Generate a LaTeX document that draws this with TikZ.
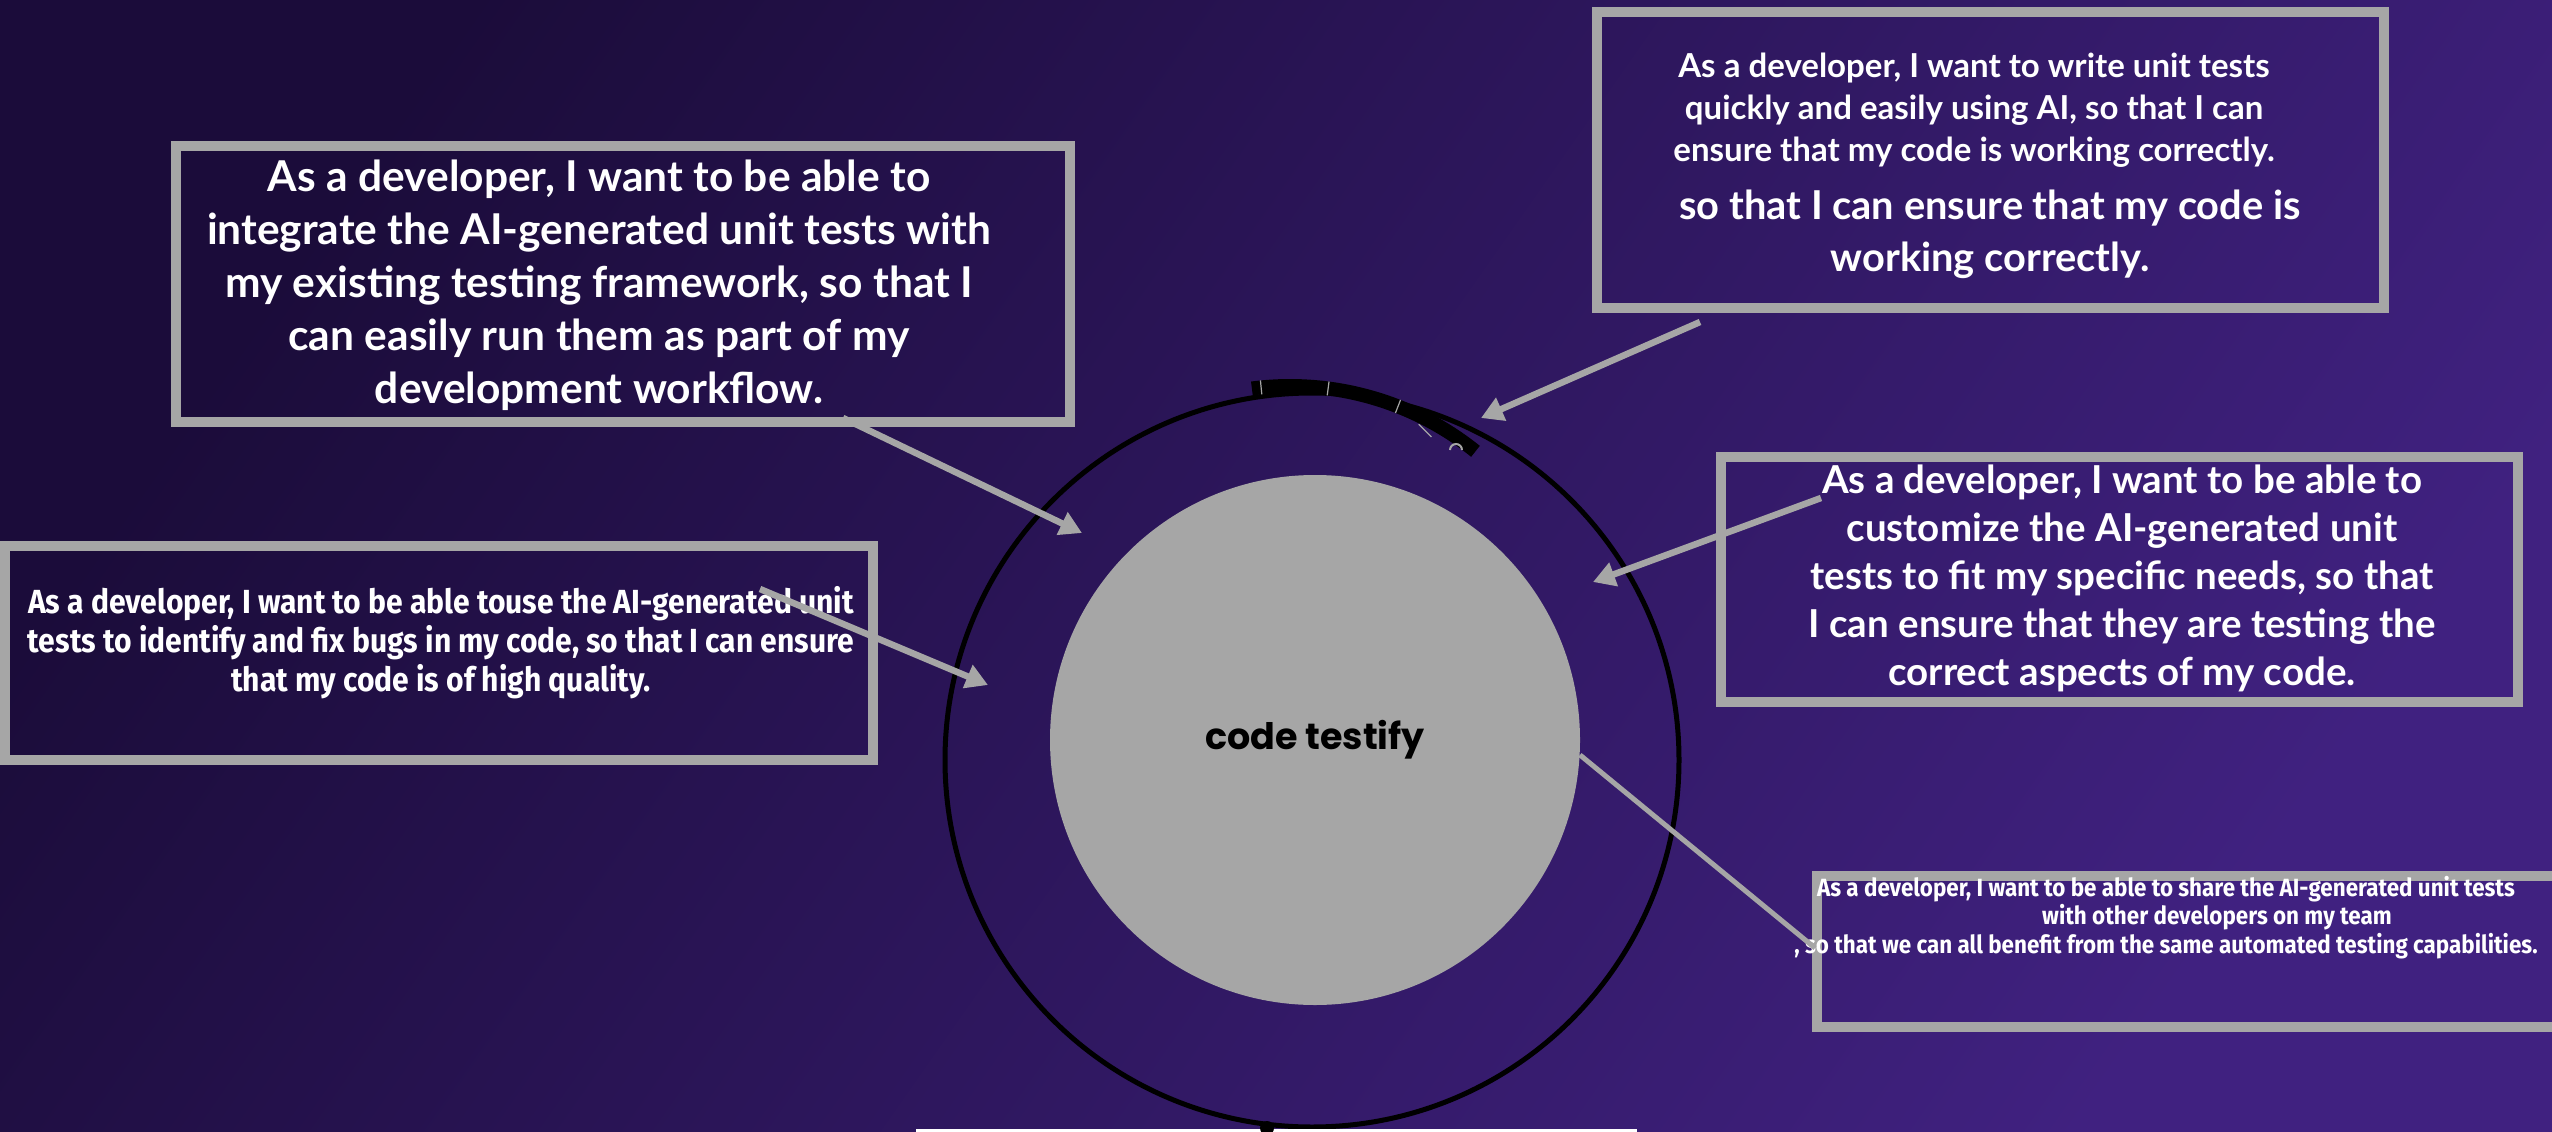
\documentclass[tikz,border=0pt]{standalone}
\usepackage{fontspec}
\usetikzlibrary{arrows.meta}
\newfontfamily\rfont{Lato}
\newfontfamily\cfont[FakeStretch=0.9]{Fira Sans}
\newfontfamily\pfont{Poppins}
\definecolor{bgA}{RGB}{27,12,58}
\definecolor{bgB}{RGB}{64,33,128}
\definecolor{gry}{RGB}{166,166,166}
\begin{document}
\begin{tikzpicture}[x=1pt,y=-1pt,
  box/.style={draw=gry, line width=10pt, rectangle, inner sep=0pt, outer sep=0pt},
  txt/.style={text=white, align=center, inner sep=0pt},
  arr/.style={draw=gry, line width=6.5pt, -{Triangle[length=22pt,width=24pt]}},
  seg/.style={draw=gry, line width=1.2pt},
]
% background
\useasboundingbox (0,0) rectangle (2552,1132);
\shade[top color=bgA, bottom color=bgB, shading angle=55] (0,0) rectangle (2552,1132);

% outer ring
\node[circle, draw=black, line width=5pt, minimum size=734pt, inner sep=0pt] (ring) at (1312,760) {};
% black arc band at top
\draw[black, line width=14pt] (1290,682) ++(-97.4:296) arc[start angle=-97.4, end angle=-51.2, radius=296];
\foreach \a in {-95.6,-82.6,-68.6} \draw[seg] (1290,682) ++(\a:289) -- ++(\a:14);
\draw[seg] (1290,682) ++(-60:283) -- ++(-135:18);
\draw[gry, line width=2pt] (1450,450) arc[start angle=180, end angle=360, radius=6];

% core
\node[circle, fill=gry, minimum size=530pt, inner sep=0pt, text=black,
      font={\pfont\bfseries\fontsize{36.5pt}{44pt}\selectfont}] (core) at (1315,740) {code testify};

% boxes
\node[box, minimum width=894pt, minimum height=276pt] (b1) at (623,284) {};
\node[box, minimum width=787pt, minimum height=296pt] (b2) at (1990.5,160) {};
\node[box, minimum width=868pt, minimum height=214pt] (b3) at (439,653) {};
\node[box, minimum width=797pt, minimum height=245pt] (b4) at (2119.5,579.5) {};
\node[box, minimum width=758pt, minimum height=151pt] (b5) at (2196,951.5) {};

% texts
\node[txt, font={\rfont\bfseries\fontsize{42.5pt}{53pt}\selectfont}] (t1) at (599,285)
  {As a developer, I want to be able to\\ integrate the AI-generated unit tests with\\ my existing testing framework, so that I\\ can easily run them as part of my\\ development workflow.};
\node[txt, font={\rfont\bfseries\fontsize{33pt}{42pt}\selectfont}] (t2a) at (1974,110)
  {As a developer, I want to write unit tests\\ quickly and easily using AI, so that I can\\ ensure that my code is working correctly.};
\node[txt, font={\rfont\bfseries\fontsize{39.8pt}{52pt}\selectfont}] (t2b) at (1990,234)
  {so that I can ensure that my code is\\ working correctly.};
\node[txt, font={\cfont\bfseries\fontsize{33.4pt}{39pt}\selectfont}] (t3) at (441,643)
  {As a developer, I want to be able touse the AI-generated unit\\ tests to identify and fix bugs in my code, so that I can ensure\\ that my code is of high quality.};
\node[txt, font={\rfont\bfseries\fontsize{38.5pt}{48pt}\selectfont}] (t4) at (2122,578.5)
  {As a developer, I want to be able to\\ customize the AI-generated unit\\ tests to fit my specific needs, so that\\ I can ensure that they are testing the\\ correct aspects of my code.};
\node[txt, font={\cfont\bfseries\fontsize{24.9pt}{28.5pt}\selectfont}] (t5) at (2166,917.5)
  {As a developer, I want to be able to share the AI-generated unit tests\\ \hspace*{102pt}with other developers on my team\\ , so that we can all benefit from the same automated testing capabilities.};

% bottom details
\fill[white] (916,1129) rectangle (1637,1140);
\fill[black] (1267,1128) circle[radius=7pt];

% connectors
\coordinate (a1s) at (843,418);  \coordinate (a1e) at (1082,533);
\coordinate (a2s) at (1700,322); \coordinate (a2e) at (1481,418);
\coordinate (a3s) at (1821,498); \coordinate (a3e) at (1593,582);
\coordinate (a4s) at (760,589);  \coordinate (a4e) at (988,685);
\coordinate (a5s) at (1580,755); \coordinate (a5e) at (1815,948);
\draw[arr] (a1s) -- (a1e);
\draw[arr] (a2s) -- (a2e);
\draw[arr] (a3s) -- (a3e);
\draw[arr] (a4s) -- (a4e);
\draw[draw=gry, line width=5pt] (a5s) -- (a5e);
\end{tikzpicture}
\end{document}
